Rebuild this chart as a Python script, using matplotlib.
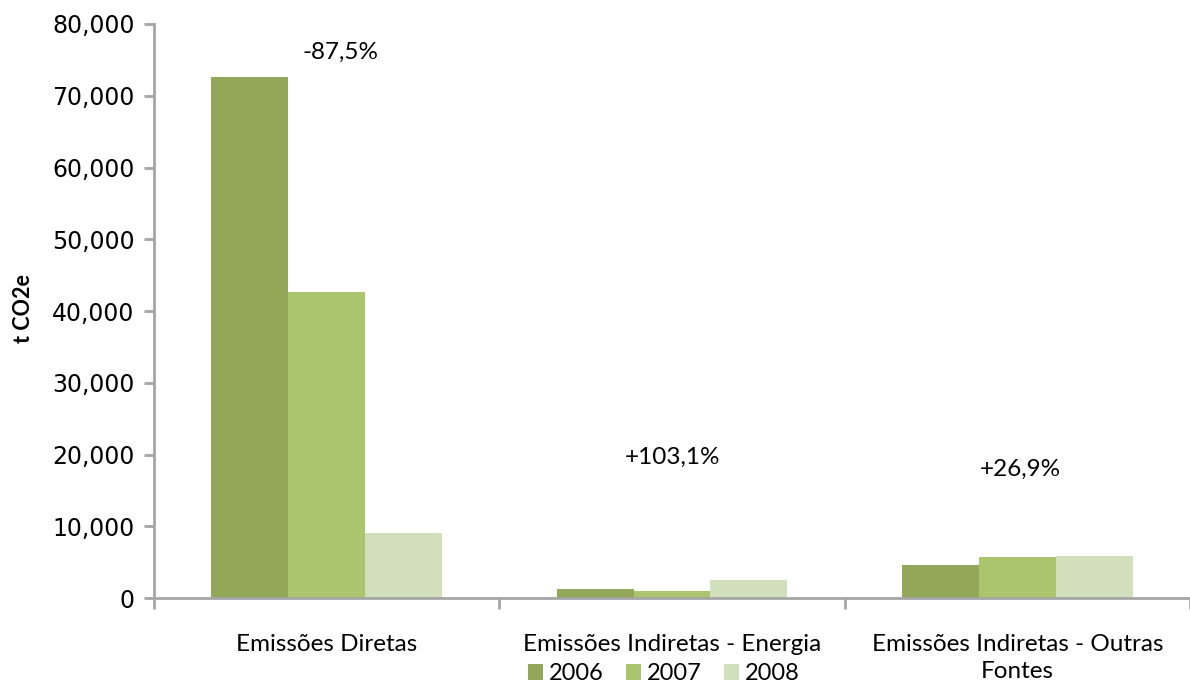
import matplotlib.pyplot as plt
from matplotlib.patches import Patch
from matplotlib.ticker import FuncFormatter
import numpy as np

categorias = ["Emissões Diretas", "Emissões Indiretas - Energia",
              "Emissões Indiretas - Outras\nFontes"]
anos = ["2006", "2007", "2008"]
v2006 = [72600, 1200, 4560]
v2007 = [42600, 1000, 5680]
v2008 = [9080, 2440, 5790]
variacao = ["-87,5%", "+103,1%", "+26,9%"]
variacao_pos = [(0.04, 76100), (1.0, 19600), (2.01, 17900)]

cores = ["#93A759", "#ABC56F", "#D1DFBC"]
fonte_txt = ["Lato", "DejaVu Sans"]
cinza = "#A6A6A6"

fig = plt.figure(figsize=(11.9, 6.86), dpi=100)
ax = fig.add_axes([154 / 1190, 1 - 598 / 686, 1036 / 1190, 574 / 686])

x = np.arange(len(categorias))
w = 0.2227
for i, (vals, cor) in enumerate(zip([v2006, v2007, v2008], cores)):
    ax.bar(x + (i - 1) * w, vals, w, color=cor, edgecolor="none")

for txt, (px, py) in zip(variacao, variacao_pos):
    ax.text(px, py, txt, ha="center", va="center", fontsize=17.5,
            family=fonte_txt, color="black")

ax.set_xlim(-0.5, -0.5 + 1036 / 348)
ax.set_ylim(0, 80000)
ax.set_yticks(np.arange(0, 80001, 10000))
ax.yaxis.set_major_formatter(FuncFormatter(lambda v, p: f"{int(v):,}"))
ax.tick_params(axis="y", labelsize=17, length=7, width=2, color=cinza, pad=7)

# traços nos limites das categorias, rótulos no centro
ax.set_xticks([-0.5, 0.5, 1.5, 2.5])
ax.set_xticklabels([])
ax.set_xticks(x, minor=True)
ax.set_xticklabels(categorias, minor=True, fontsize=17.5, family=fonte_txt,
                   linespacing=1.35)
ax.tick_params(axis="x", which="major", length=8, width=2, color=cinza)
ax.tick_params(axis="x", which="minor", length=0, pad=26)

for s in ["top", "right"]:
    ax.spines[s].set_visible(False)
for s in ["left", "bottom"]:
    ax.spines[s].set_color(cinza)
    ax.spines[s].set_linewidth(2)

fig.text(23 / 1190, 1 - 309 / 686, "t CO2e", rotation=90, ha="center",
         va="center", fontsize=15.5, fontweight="bold", family=fonte_txt)

handles = [Patch(facecolor=c, edgecolor="none", label=a) for a, c in zip(anos, cores)]
fig.legend(handles=handles, loc="center", bbox_to_anchor=(664 / 1190, 1 - 674 / 686),
           ncol=3, frameon=False, prop={"family": fonte_txt, "size": 17},
           handlelength=0.64, handleheight=0.64, handletextpad=0.25,
           columnspacing=0.93, borderpad=0.1)

fig.savefig("out.png", dpi=100)
